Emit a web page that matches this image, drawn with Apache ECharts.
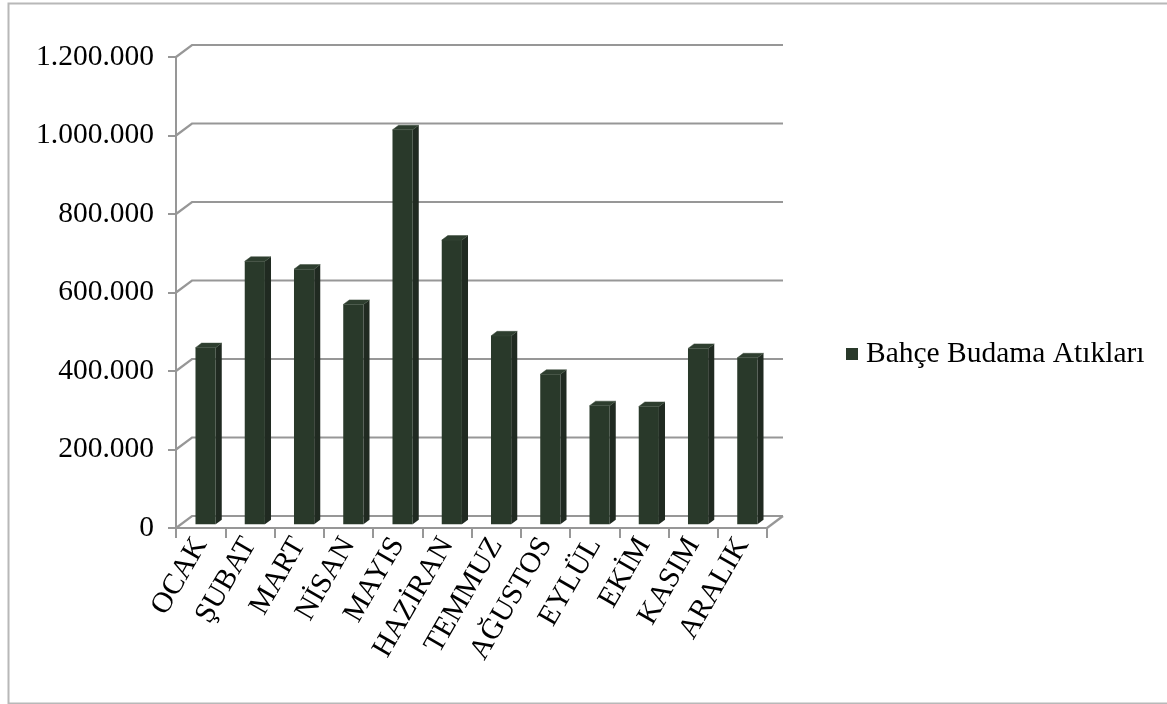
<!DOCTYPE html>
<html>
<head>
<meta charset="utf-8">
<script src="https://cdn.jsdelivr.net/npm/echarts@6/dist/echarts.min.js"></script>
<style>
html,body{margin:0;padding:0;background:#fff;}
#chart{width:1167px;height:704px;}
</style>
</head>
<body>
<div id="chart"></div>
<script>
// ---- data ----
const categories = ['OCAK','ŞUBAT','MART','NİSAN','MAYIS','HAZİRAN','TEMMUZ','AĞUSTOS','EYLÜL','EKİM','KASIM','ARALIK'];
const values = [450000, 670000, 650000, 560000, 1005000, 724000, 480000, 382000, 302000, 300000, 448000, 424000];
const yTicks = [0, 200000, 400000, 600000, 800000, 1000000, 1200000];
const seriesName = 'Bahçe Budama Atıkları';

// ---- 3D look ----
const DX = 16, DY = -12;          // depth offset of back wall
const F = 0.31, D = 0.38;         // bar front depth, bar depth (fractions)
const BAR_W = 0.41;               // bar width as fraction of band
const FONT = "'Liberation Serif','Times New Roman',serif";
const GRID_COLOR = '#979797';

function fmt(v){ return String(v).replace(/\B(?=(\d{3})+(?!\d))/g, '.'); }

function renderGrid(params, api){
  const v = api.value(1);
  const cs = params.coordSys;
  const y = api.coord([0, v])[1];
  const xl = cs.x, xr = cs.x + cs.width;
  const children = [{
    type: 'polyline',
    shape: {points: [[xl, y], [xl + DX, y + DY], [xr + DX, y + DY]]},
    style: {stroke: GRID_COLOR, lineWidth: 2.2, fill: null}
  }];
  if (v === 0) {
    children.push({
      type: 'line',
      shape: {x1: xr, y1: y, x2: xr + DX, y2: y + DY},
      style: {stroke: GRID_COLOR, lineWidth: 2.2}
    });
  }
  return {type: 'group', children: children};
}

function renderBar(params, api){
  const idx = api.value(0), v = api.value(1);
  const top = api.coord([idx, v]);
  const bot = api.coord([idx, 0]);
  const band = api.size([1, 0])[0];
  const w = band * BAR_W;
  const x0 = top[0] - w / 2 + DX * F, x1 = x0 + w;
  const yT = top[1] + DY * F, yB = bot[1] + DY * F;
  const ddx = DX * D, ddy = DY * D;
  return {type: 'group', children: [
    {type: 'polygon', shape: {points: [[x1, yT], [x1 + ddx, yT + ddy], [x1 + ddx, yB + ddy], [x1, yB]]},
     style: {fill: '#202a21'}},
    {type: 'rect', shape: {x: x0, y: yT, width: w, height: yB - yT}, style: {fill: '#29392a'}},
    {type: 'polygon', shape: {points: [[x0, yT], [x1, yT], [x1 + ddx, yT + ddy], [x0 + ddx, yT + ddy]]},
     style: {fill: '#2e3e2f', stroke: '#3a4a3b', lineWidth: 0.5}}
  ]};
}

const chart = echarts.init(document.getElementById('chart'));
chart.setOption({
  animation: false,
  backgroundColor: '#fff',
  graphic: [{
    type: 'rect', left: 6, top: 1,
    shape: {width: 1175, height: 700},
    style: {fill: null, stroke: '#b8b8b8', lineWidth: 2}
  }],
  legend: {
    data: [seriesName],
    left: 846, top: 339, padding: 0,
    icon: 'rect', itemWidth: 12, itemHeight: 12, itemGap: 0,
    textStyle: {fontFamily: FONT, fontSize: 29.5, color: '#000', padding: [0, 0, 0, 3]}
  },
  grid: {left: 176, right: 400, top: 57, bottom: 176, containLabel: false},
  xAxis: {
    type: 'category',
    data: categories,
    axisLine: {show: true, lineStyle: {color: GRID_COLOR, width: 2}},
    axisTick: {show: true, length: 10, lineStyle: {color: GRID_COLOR, width: 2}},
    axisLabel: {rotate: 60, margin: 12, fontFamily: FONT, fontSize: 29.5, color: '#000', interval: 0}
  },
  yAxis: {
    type: 'value',
    min: 0, max: 1200000, interval: 200000,
    axisLine: {show: true, lineStyle: {color: GRID_COLOR, width: 2}},
    axisTick: {show: true, length: 8, lineStyle: {color: GRID_COLOR, width: 2}},
    splitLine: {show: false},
    axisLabel: {margin: 22, fontFamily: FONT, fontSize: 29.5, color: '#000', formatter: fmt}
  },
  series: [
    {
      type: 'custom', name: 'grid', z: 1, silent: true,
      renderItem: renderGrid,
      encode: {x: 0, y: 1},
      data: yTicks.map(function(v){ return [0, v]; })
    },
    {
      type: 'custom', name: seriesName, z: 2,
      itemStyle: {color: '#29392a'},
      renderItem: renderBar,
      encode: {x: 0, y: 1},
      data: values.map(function(v, i){ return [i, v]; })
    }
  ]
});
</script>
</body>
</html>
